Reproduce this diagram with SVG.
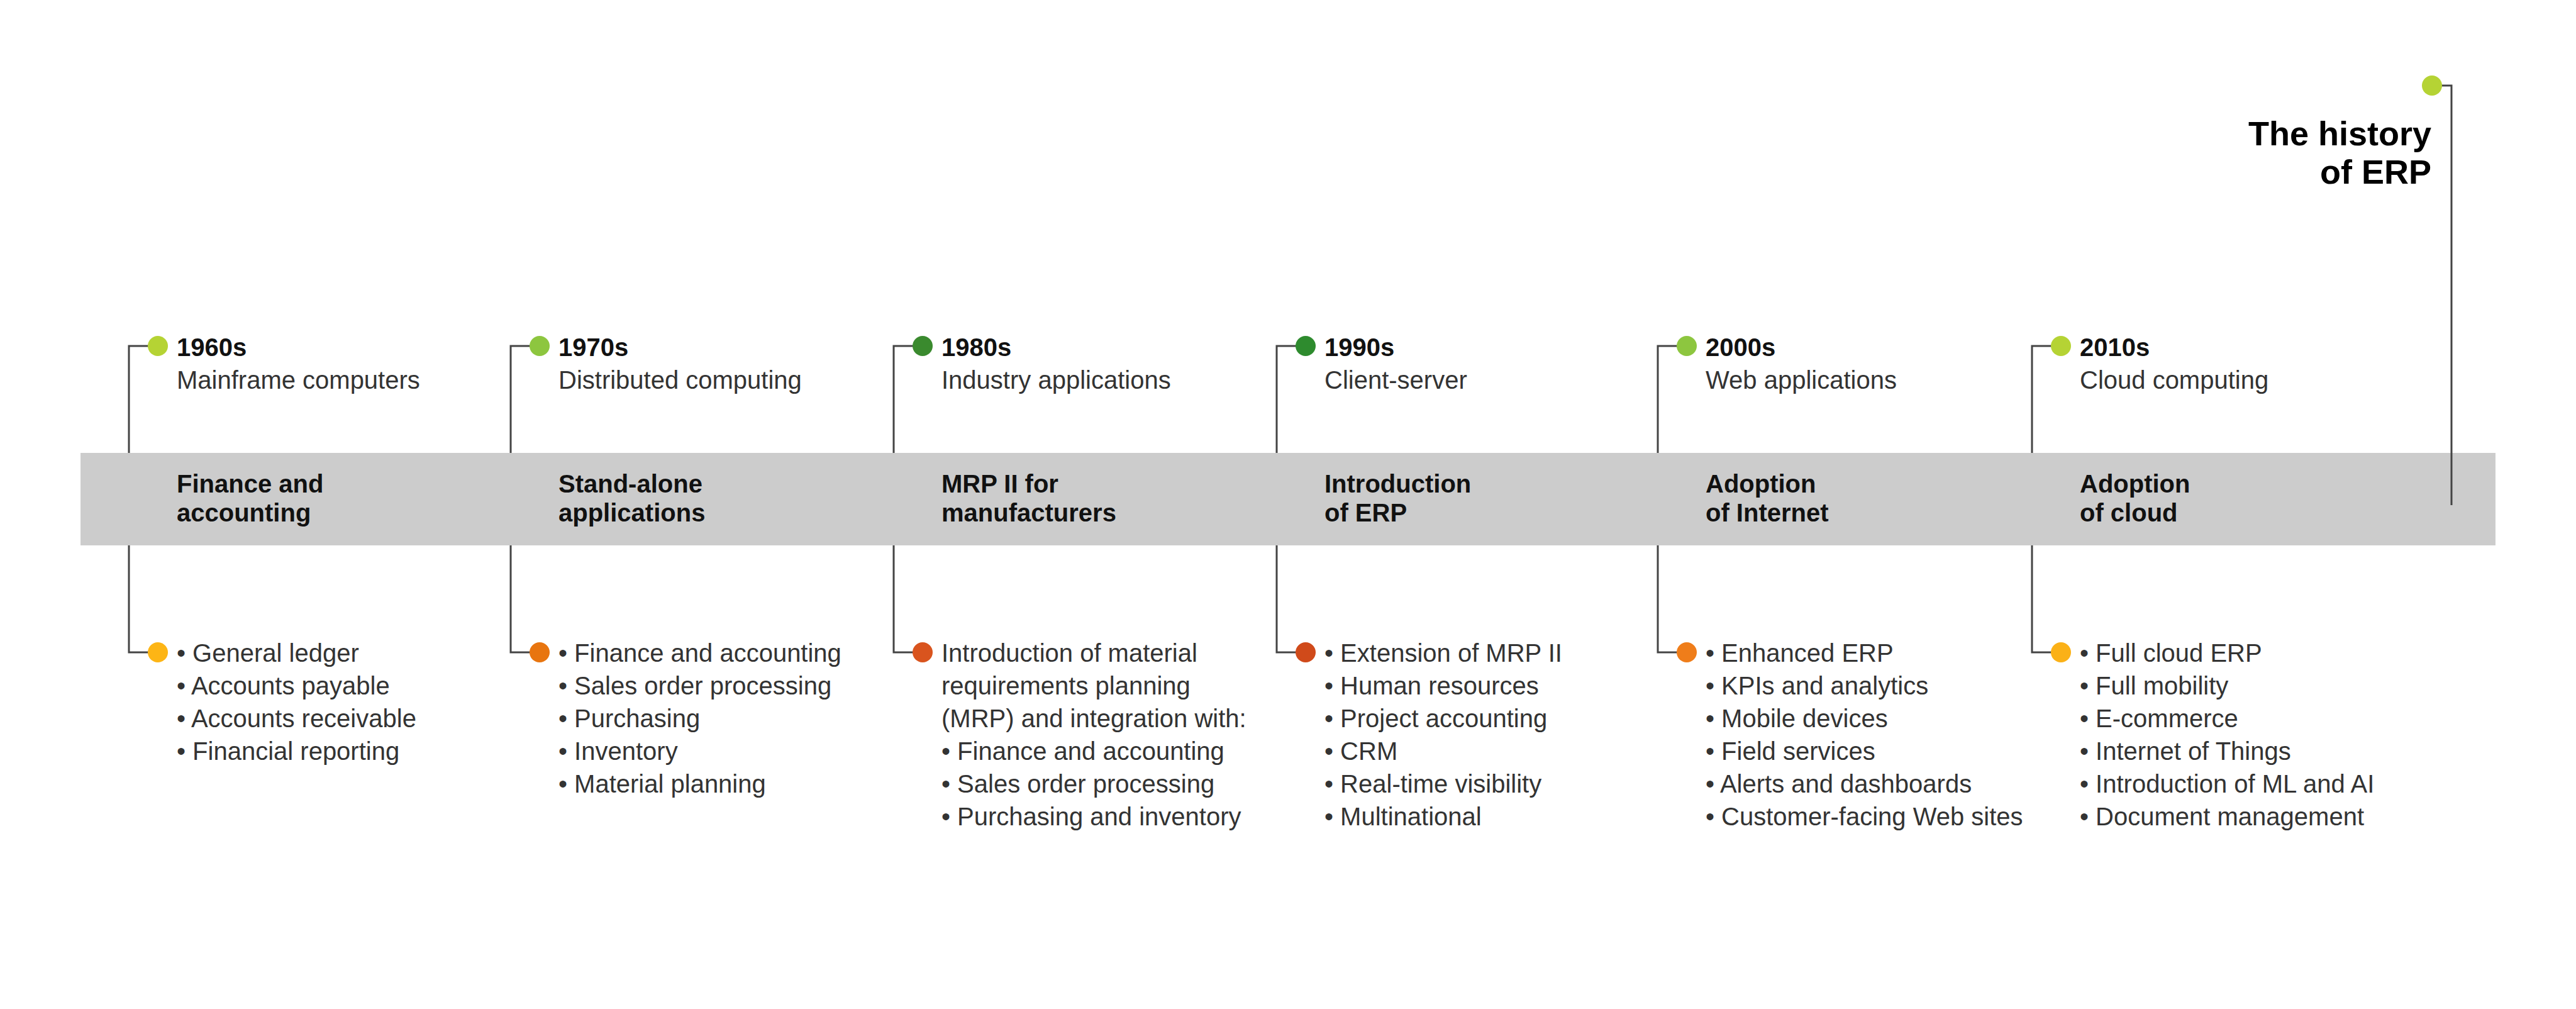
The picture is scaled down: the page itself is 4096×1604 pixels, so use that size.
<svg xmlns="http://www.w3.org/2000/svg" width="4096" height="1604" viewBox="0 0 4096 1604">
<style>
text{font-family:"Liberation Sans",Arial,sans-serif;font-size:40px;fill:#222}
.yr{font-weight:bold;fill:#111}
.sub{fill:#333}
.band{font-weight:bold;fill:#111}
.li{fill:#333}
.ln{fill:none;stroke:#444;stroke-width:3}
.ttl{font-size:54px;font-weight:bold;fill:#000;text-anchor:end}
</style>
<rect x="128" y="720" width="3840" height="147" fill="#cccccc"/>
<g id="connectors">
<path class="ln" d="M251 550H205V720M205 867V1037H251"/>
<path class="ln" d="M858 550H812V720M812 867V1037H858"/>
<path class="ln" d="M1467 550H1421V720M1421 867V1037H1467"/>
<path class="ln" d="M2076 550H2030V720M2030 867V1037H2076"/>
<path class="ln" d="M2682 550H2636V720M2636 867V1037H2682"/>
<path class="ln" d="M3277 550H3231V720M3231 867V1037H3277"/>
<path class="ln" d="M3867 136H3898V803"/>
</g>
<g id="title">
<circle cx="3867" cy="136" r="16" fill="#b5d334"/>
<text class="ttl" x="3866" y="231">The history</text>
<text class="ttl" x="3866" y="292">of ERP</text>
</g>
<g id="n1960">
<circle cx="251" cy="550" r="16" fill="#b5d334"/>
<text class="yr" x="281" y="566">1960s</text>
<text class="sub" x="281" y="618">Mainframe computers</text>
<text class="band" x="281" y="783">Finance and</text>
<text class="band" x="281" y="829">accounting</text>
<circle cx="251" cy="1037" r="16" fill="#fdb515"/>
<text class="li" x="281" y="1052">• General ledger</text>
<text class="li" x="281" y="1104">• Accounts payable</text>
<text class="li" x="281" y="1156">• Accounts receivable</text>
<text class="li" x="281" y="1208">• Financial reporting</text>
</g>
<g id="n1970">
<circle cx="858" cy="550" r="16" fill="#8dc63f"/>
<text class="yr" x="888" y="566">1970s</text>
<text class="sub" x="888" y="618">Distributed computing</text>
<text class="band" x="888" y="783">Stand-alone</text>
<text class="band" x="888" y="829">applications</text>
<circle cx="858" cy="1037" r="16" fill="#e8750f"/>
<text class="li" x="888" y="1052">• Finance and accounting</text>
<text class="li" x="888" y="1104">• Sales order processing</text>
<text class="li" x="888" y="1156">• Purchasing</text>
<text class="li" x="888" y="1208">• Inventory</text>
<text class="li" x="888" y="1260">• Material planning</text>
</g>
<g id="n1980">
<circle cx="1467" cy="550" r="16" fill="#3a8a2e"/>
<text class="yr" x="1497" y="566">1980s</text>
<text class="sub" x="1497" y="618">Industry applications</text>
<text class="band" x="1497" y="783">MRP II for</text>
<text class="band" x="1497" y="829">manufacturers</text>
<circle cx="1467" cy="1037" r="16" fill="#d9541e"/>
<text class="li" x="1497" y="1052">Introduction of material</text>
<text class="li" x="1497" y="1104">requirements planning</text>
<text class="li" x="1497" y="1156">(MRP) and integration with:</text>
<text class="li" x="1497" y="1208">• Finance and accounting</text>
<text class="li" x="1497" y="1260">• Sales order processing</text>
<text class="li" x="1497" y="1312">• Purchasing and inventory</text>
</g>
<g id="n1990">
<circle cx="2076" cy="550" r="16" fill="#2e8b2e"/>
<text class="yr" x="2106" y="566">1990s</text>
<text class="sub" x="2106" y="618">Client-server</text>
<text class="band" x="2106" y="783">Introduction</text>
<text class="band" x="2106" y="829">of ERP</text>
<circle cx="2076" cy="1037" r="16" fill="#d04a1a"/>
<text class="li" x="2106" y="1052">• Extension of MRP II</text>
<text class="li" x="2106" y="1104">• Human resources</text>
<text class="li" x="2106" y="1156">• Project accounting</text>
<text class="li" x="2106" y="1208">• CRM</text>
<text class="li" x="2106" y="1260">• Real-time visibility</text>
<text class="li" x="2106" y="1312">• Multinational</text>
</g>
<g id="n2000">
<circle cx="2682" cy="550" r="16" fill="#8dc63f"/>
<text class="yr" x="2712" y="566">2000s</text>
<text class="sub" x="2712" y="618">Web applications</text>
<text class="band" x="2712" y="783">Adoption</text>
<text class="band" x="2712" y="829">of Internet</text>
<circle cx="2682" cy="1037" r="16" fill="#ef7d1a"/>
<text class="li" x="2712" y="1052">• Enhanced ERP</text>
<text class="li" x="2712" y="1104">• KPIs and analytics</text>
<text class="li" x="2712" y="1156">• Mobile devices</text>
<text class="li" x="2712" y="1208">• Field services</text>
<text class="li" x="2712" y="1260">• Alerts and dashboards</text>
<text class="li" x="2712" y="1312">• Customer-facing Web sites</text>
</g>
<g id="n2010">
<circle cx="3277" cy="550" r="16" fill="#b5d334"/>
<text class="yr" x="3307" y="566">2010s</text>
<text class="sub" x="3307" y="618">Cloud computing</text>
<text class="band" x="3307" y="783">Adoption</text>
<text class="band" x="3307" y="829">of cloud</text>
<circle cx="3277" cy="1037" r="16" fill="#fbb117"/>
<text class="li" x="3307" y="1052">• Full cloud ERP</text>
<text class="li" x="3307" y="1104">• Full mobility</text>
<text class="li" x="3307" y="1156">• E-commerce</text>
<text class="li" x="3307" y="1208">• Internet of Things</text>
<text class="li" x="3307" y="1260">• Introduction of ML and AI</text>
<text class="li" x="3307" y="1312">• Document management</text>
</g>
</svg>
